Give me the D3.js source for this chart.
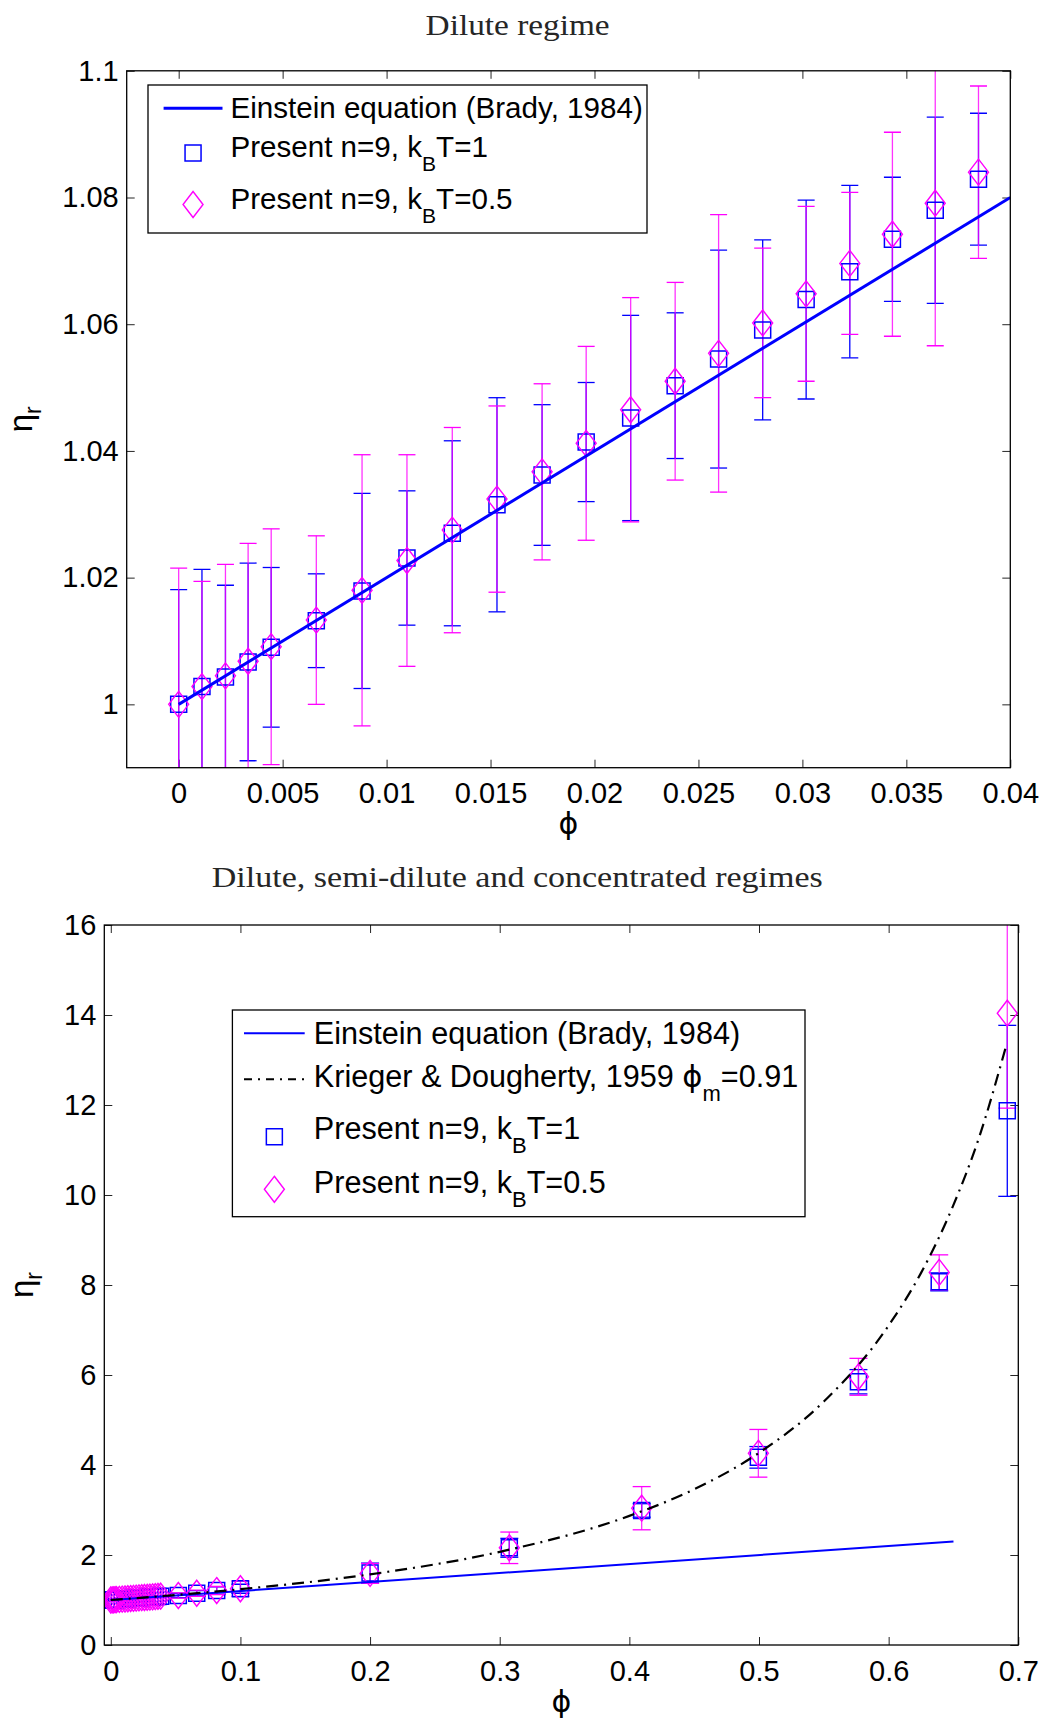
<!DOCTYPE html>
<html>
<head>
<meta charset="utf-8">
<script src="https://cdnjs.cloudflare.com/ajax/libs/d3/7.8.5/d3.min.js"></script>
<style>
  body { margin: 0; background: #fff; }
  svg { display: block; }
  .axis text { font-family: "Liberation Sans", Arial, sans-serif; font-size: 29px; fill: #000; }
  .axis line { stroke: #262626; stroke-width: 1; }
  .title { font-family: "Liberation Serif", "Times New Roman", serif; font-size: 30px; fill: #262626; }
  .label { font-family: "DejaVu Sans", sans-serif; fill: #000; }
  .legend text { font-family: "Liberation Sans", Arial, sans-serif; fill: #000; }
</style>
</head>
<body>
<div id="wrapper"></div>
<script>
// dilute-regime points (phi) and measured eta_r with symmetric error bars
const phiDilute = [0, 0.00112, 0.00225, 0.00334, 0.00445, 0.00662, 0.00882, 0.01098, 0.01316, 0.01531, 0.01748,
  0.0196, 0.02174, 0.02388, 0.02597, 0.02809, 0.03018, 0.03228, 0.03433, 0.03639, 0.03847]
const etaKT1Dilute = [1.000, 1.0028, 1.0043, 1.0067, 1.009, 1.0132, 1.0179, 1.0231, 1.027, 1.0315, 1.0362,
  1.0414, 1.0452, 1.0503, 1.0545, 1.0591, 1.0639, 1.0683, 1.0734, 1.078, 1.0829]
const errKT1Dilute = [0.0181, 0.0185, 0.0145, 0.0156, 0.0126, 0.0074, 0.0154, 0.0106, 0.0146, 0.0169, 0.0111,
  0.0094, 0.0162, 0.0115, 0.0172, 0.0142, 0.0157, 0.0136, 0.0098, 0.0147, 0.0104]
const etaKT05Dilute = [1.000, 1.0028, 1.0045, 1.0068, 1.0091, 1.0133, 1.018, 1.0227, 1.0275, 1.0324, 1.0367,
  1.0412, 1.0465, 1.051, 1.0554, 1.0602, 1.0648, 1.0696, 1.0742, 1.0791, 1.084]
const errKT05Dilute = [0.0215, 0.0166, 0.0176, 0.0186, 0.0186, 0.0133, 0.0214, 0.0167, 0.0162, 0.0147, 0.0139,
  0.0153, 0.0177, 0.0156, 0.0219, 0.0118, 0.0138, 0.0112, 0.0161, 0.0225, 0.0136]

// semi-dilute and concentrated points
const phiDense = [0.0521, 0.0663, 0.0817, 0.1, 0.2, 0.3074, 0.4095, 0.4995, 0.5767, 0.639, 0.6915]
const etaKT1Dense = [1.10, 1.15, 1.21, 1.25, 1.60, 2.16, 2.99, 4.17, 5.85, 8.07, 11.87]
const errKT1Dense = [0.05, 0.06, 0.08, 0.10, 0.22, 0.21, 0.15, 0.24, 0.27, 0.20, 1.90]
const etaKT05Dense = [1.10, 1.15, 1.21, 1.25, 1.59, 2.16, 3.04, 4.26, 5.96, 8.28, 14.04]
const errKT05Dense = [0.06, 0.07, 0.09, 0.17, 0.22, 0.35, 0.48, 0.53, 0.41, 0.39, 2.11]

// reference curves
const einsteinPhiTop = [0, 0.04]
const einsteinEtaTop = [1, 1.08]
const einsteinPhiBottom = [0, 0.65]
const einsteinEtaBottom = [1, 2.3]
const kdPhi = [0, 0.1, 0.2, 0.3, 0.4, 0.45, 0.5, 0.55, 0.6, 0.625, 0.65, 0.67, 0.69]
const kdEta = [1, 1.24, 1.57, 2.07, 2.87, 3.46, 4.27, 5.41, 7.1, 8.27, 9.78, 11.3, 13.25]

// ticks and texts
const xTicksTop = [0, 0.005, 0.01, 0.015, 0.02, 0.025, 0.03, 0.035, 0.04]
const yTicksTop = [1, 1.02, 1.04, 1.06, 1.08, 1.1]
const xTicksBottom = [0, 0.1, 0.2, 0.3, 0.4, 0.5, 0.6, 0.7]
const yTicksBottom = [0, 2, 4, 6, 8, 10, 12, 14, 16]
const titles = ["Dilute regime", "Dilute, semi-dilute and concentrated regimes"]

const blue = "#0000ff"
const magenta = "#ff00ff"

function drawChart() {
  const svg = d3.select("#wrapper")
    .append("svg")
      .attr("width", 1043)
      .attr("height", 1720)

  const fmt = d3.format("~g")

  const zip = (xs, ys, es) => xs.map((x, i) => ({ x, y: ys[i], e: es ? es[i] : 0 }))

  const squarePath = (cx, cy, h) => `M${cx - h},${cy - h}H${cx + h}V${cy + h}H${cx - h}Z`
  const diamondPath = (cx, cy, w, h) => `M${cx},${cy - h}L${cx + w},${cy}L${cx},${cy + h}L${cx - w},${cy}Z`

  function drawPanel(panel) {
    const d = panel.dims
    const xScale = d3.scaleLinear().domain(panel.xDomain).range([d.left, d.right])
    const yScale = d3.scaleLinear().domain(panel.yDomain).range([d.bottom, d.top])

    svg.append("clipPath").attr("id", panel.id)
      .append("rect")
        .attr("x", d.left).attr("y", d.top)
        .attr("width", d.right - d.left).attr("height", d.bottom - d.top)

    // axes with inward ticks on all four sides
    const axes = [
      [d3.axisBottom(xScale).tickValues(panel.xTicks).tickFormat(fmt), `translate(0,${d.bottom})`],
      [d3.axisTop(xScale).tickValues(panel.xTicks).tickFormat(""), `translate(0,${d.top})`],
      [d3.axisLeft(yScale).tickValues(panel.yTicks).tickFormat(fmt), `translate(${d.left},0)`],
      [d3.axisRight(yScale).tickValues(panel.yTicks).tickFormat(""), `translate(${d.right},0)`],
    ]
    axes.forEach(([gen, tr], i) => {
      svg.append("g")
          .attr("class", "axis")
          .attr("transform", tr)
        .call(gen.tickSizeInner(-8).tickSizeOuter(0).tickPadding(i == 0 ? 15 : 8))
        .call(g => g.select(".domain").remove())
    })

    const plot = svg.append("g").attr("clip-path", `url(#${panel.id})`)

    // error bars + markers
    const series = [
      { rows: panel.kt1, color: blue, opacity: 1 },
      { rows: panel.kt05, color: magenta, opacity: 0.8 },
    ]
    series.forEach(s => {
      const g = plot.append("g")
          .attr("stroke", s.color)
          .attr("stroke-width", 1.3)
          .attr("fill", "none")
      g.selectAll(".stem").data(s.rows).join("line")
          .attr("stroke-opacity", s.opacity)
          .attr("x1", r => xScale(r.x)).attr("x2", r => xScale(r.x))
          .attr("y1", r => yScale(r.y - r.e)).attr("y2", r => yScale(r.y + r.e))
      ;[-1, 1].forEach(sign => {
        g.selectAll(null).data(s.rows).join("line")
            .attr("x1", r => xScale(r.x) - panel.cap).attr("x2", r => xScale(r.x) + panel.cap)
            .attr("y1", r => yScale(r.y + sign * r.e)).attr("y2", r => yScale(r.y + sign * r.e))
      })
    })
    plot.append("g").selectAll("path").data(panel.kt1).join("path")
        .attr("d", r => squarePath(xScale(r.x), yScale(r.y), 8))
        .attr("fill", "none").attr("stroke", blue).attr("stroke-width", 1.5)
    plot.append("g").selectAll("path").data(panel.kt05).join("path")
        .attr("d", r => diamondPath(xScale(r.x), yScale(r.y), 10, 13))
        .attr("fill", "none").attr("stroke", magenta).attr("stroke-width", 1.4)

    // model curves
    panel.curves.forEach(c => {
      plot.append("path")
          .datum(c.rows)
          .attr("d", d3.line().x(r => xScale(r.x)).y(r => yScale(r.y)).curve(d3.curveMonotoneX))
          .attr("fill", "none")
          .attr("stroke", c.color)
          .attr("stroke-width", c.width)
          .attr("stroke-dasharray", c.dash || null)
    })

    svg.append("rect")
        .attr("x", d.left).attr("y", d.top)
        .attr("width", d.right - d.left).attr("height", d.bottom - d.top)
        .attr("fill", "none").attr("stroke", "#000").attr("stroke-width", 1.3)

    // title and axis labels
    svg.append("text")
        .attr("class", "title")
        .attr("x", panel.title.x).attr("y", panel.title.y)
        .attr("text-anchor", "middle")
        .attr("textLength", panel.title.length)
        .attr("lengthAdjust", "spacingAndGlyphs")
        .text(panel.title.text)

    svg.append("text")
        .attr("class", "label")
        .attr("x", (d.left + d.right) / 2).attr("y", panel.xLabelY)
        .attr("text-anchor", "middle")
        .style("font-size", "30px")
        .text("ϕ")

    const yLabel = svg.append("text")
        .attr("class", "label")
        .attr("transform", `translate(${panel.yLabelX},${(d.top + d.bottom) / 2}) rotate(-90)`)
        .attr("text-anchor", "middle")
        .style("font-family", "'Liberation Sans', Arial, sans-serif")
        .style("font-size", "33px")
    yLabel.append("tspan").text("η")
    yLabel.append("tspan").attr("dy", 9).style("font-size", "23px").text("r")

    // legend
    const L = panel.legend
    const lg = svg.append("g").attr("class", "legend")
    lg.append("rect")
        .attr("x", L.x).attr("y", L.y).attr("width", L.w).attr("height", L.h)
        .attr("fill", "#fff").attr("stroke", "#000").attr("stroke-width", 1.3)
    L.rows.forEach(row => {
      const sampleMid = (L.lineX1 + L.lineX2) / 2
      if (row.kind == "line") {
        lg.append("line")
            .attr("x1", L.lineX1).attr("x2", L.lineX2)
            .attr("y1", row.markY).attr("y2", row.markY)
            .attr("stroke", row.color).attr("stroke-width", row.width)
            .attr("stroke-dasharray", row.dash || null)
      } else if (row.kind == "square") {
        lg.append("path").attr("d", squarePath(sampleMid, row.markY, 8))
            .attr("fill", "none").attr("stroke", blue).attr("stroke-width", 1.5)
      } else {
        lg.append("path").attr("d", diamondPath(sampleMid, row.markY, 10, 13))
            .attr("fill", "none").attr("stroke", magenta).attr("stroke-width", 1.4)
      }
      const t = lg.append("text")
          .attr("x", L.textX).attr("y", row.baseline)
          .style("font-size", `${L.fontSize}px`)
      row.parts.forEach(p => {
        const span = t.append("tspan").text(p.text)
        if (p.sub) span.attr("dy", L.subShift).style("font-size", `${L.subSize}px`)
        if (p.back) span.attr("dy", -L.subShift)
        if (p.font) span.style("font-family", p.font)
      })
    })
  }

  const kbRows = [
    { text: "Present n=9, k" }, { text: "B", sub: true }, { text: "T=1", back: true },
  ]
  const kbRows05 = [
    { text: "Present n=9, k" }, { text: "B", sub: true }, { text: "T=0.5", back: true },
  ]

  drawPanel({
    id: "clipTop",
    dims: { left: 126.7, right: 1010.3, top: 70.8, bottom: 767.7 },
    xDomain: [-0.0025, 0.04],
    yDomain: [0.99, 1.1],
    xTicks: xTicksTop,
    yTicks: yTicksTop,
    cap: 8.5,
    kt1: zip(phiDilute, etaKT1Dilute, errKT1Dilute),
    kt05: zip(phiDilute, etaKT05Dilute, errKT05Dilute),
    curves: [
      { rows: zip(einsteinPhiTop, einsteinEtaTop), color: blue, width: 3 },
    ],
    title: { text: titles[0], x: 517.6, y: 35, length: 184 },
    xLabelY: 834,
    yLabelX: 32,
    legend: {
      x: 148, y: 85, w: 499, h: 148,
      lineX1: 163.6, lineX2: 222.5, textX: 230.4,
      fontSize: 29.6, subSize: 21, subShift: 14,
      rows: [
        { kind: "line", color: blue, width: 3, markY: 108.3, baseline: 118.3,
          parts: [{ text: "Einstein equation (Brady, 1984)" }] },
        { kind: "square", markY: 153, baseline: 156.7, parts: kbRows },
        { kind: "diamond", markY: 204.5, baseline: 209, parts: kbRows05 },
      ],
    },
  })

  drawPanel({
    id: "clipBottom",
    dims: { left: 104.3, right: 1018.3, top: 925, bottom: 1645 },
    xDomain: [-0.005, 0.7],
    yDomain: [0, 16],
    xTicks: xTicksBottom,
    yTicks: yTicksBottom,
    cap: 9,
    kt1: zip(phiDilute.concat(phiDense), etaKT1Dilute.concat(etaKT1Dense), errKT1Dilute.concat(errKT1Dense)),
    kt05: zip(phiDilute.concat(phiDense), etaKT05Dilute.concat(etaKT05Dense), errKT05Dilute.concat(errKT05Dense)),
    curves: [
      { rows: zip(einsteinPhiBottom, einsteinEtaBottom), color: blue, width: 2 },
      { rows: zip(kdPhi, kdEta), color: "#000", width: 2.2, dash: "12,6,2,6" },
    ],
    title: { text: titles[1], x: 517.3, y: 887, length: 611 },
    xLabelY: 1712,
    yLabelX: 33,
    legend: {
      x: 232.4, y: 1010, w: 572.6, h: 206.7,
      lineX1: 244, lineX2: 304.7, textX: 313.8,
      fontSize: 30.6, subSize: 22, subShift: 14,
      rows: [
        { kind: "line", color: blue, width: 2, markY: 1033.3, baseline: 1044.3,
          parts: [{ text: "Einstein equation (Brady, 1984)" }] },
        { kind: "line", color: "#000", width: 2, dash: "8,6,2,6", markY: 1079.3, baseline: 1086.7,
          parts: [
            { text: "Krieger & Dougherty, 1959 " },
            { text: "ϕ", font: "'DejaVu Sans', sans-serif" },
            { text: "m", sub: true },
            { text: "=0.91", back: true },
          ] },
        { kind: "square", markY: 1136.7, baseline: 1139.3, parts: kbRows },
        { kind: "diamond", markY: 1189.3, baseline: 1192.7, parts: kbRows05 },
      ],
    },
  })
}
drawChart()
</script>
</body>
</html>
